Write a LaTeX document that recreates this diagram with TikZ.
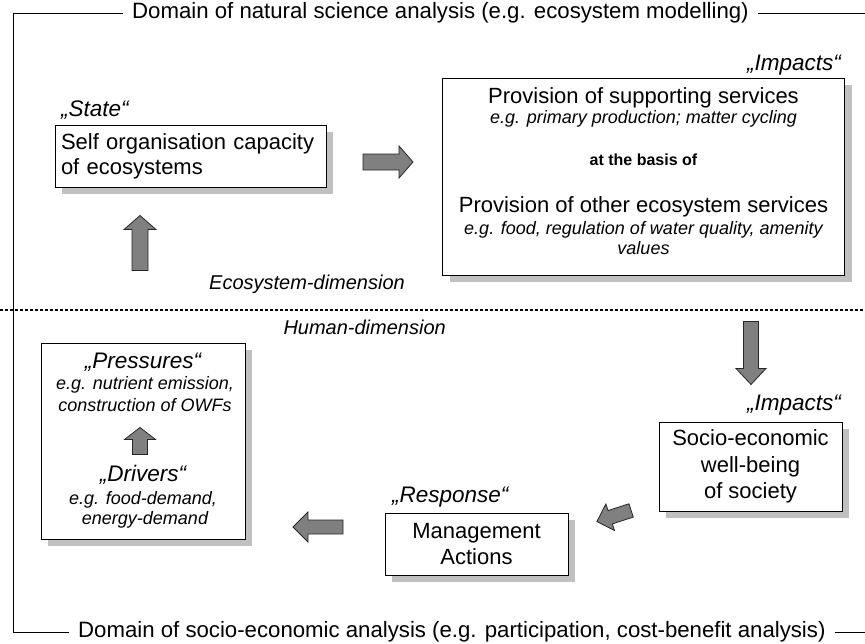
\documentclass[tikz,border=0pt]{standalone}
\usepackage{fontspec}
\setmainfont{Liberation Sans}
\usetikzlibrary{shadows}
\definecolor{shadowgray}{RGB}{192,192,192}
\definecolor{arrowgray}{RGB}{128,128,128}
\tikzset{
  boxstyle/.style={draw=black, line width=1pt, fill=white, inner sep=0pt,
    drop shadow={shadow xshift=7pt, shadow yshift=-7pt, fill=shadowgray, opacity=1}},
  arrowstyle/.style={fill=arrowgray, draw=black!85, line width=0.8pt, line join=miter},
  framestyle/.style={draw=black, line width=1pt},
  titlestyle/.style={inner xsep=9pt, inner ysep=0pt, font=\fontsize{22.2}{26}\selectfont},
  bigtxt/.style={inner sep=0pt, font=\fontsize{22}{26}\selectfont},
  lbl/.style={inner sep=0pt, font=\fontsize{22.5}{26}\selectfont\itshape},
  dimlbl/.style={inner sep=0pt, font=\fontsize{20}{24}\selectfont\itshape},
  smallit/.style={inner sep=0pt, font=\fontsize{18}{20}\selectfont\itshape},
  boldtxt/.style={inner sep=0pt, font=\fontsize{16}{20}\selectfont\bfseries},
  dotline/.style={line width=2.5pt, dash pattern=on 2.5pt off 2.5pt}
}
% block arrow: center x, center y, angle, length, shaft half, head half, head length
\newcommand{\barrow}[7]{%
  \begin{scope}[shift={(#1,#2)}, rotate=#3]
    \draw[arrowstyle] ({-#4/2},{-#5}) -- ({#4/2-#7},{-#5}) -- ({#4/2-#7},{-#6})
      -- ({#4/2},0) -- ({#4/2-#7},{#6}) -- ({#4/2-#7},{#5}) -- ({-#4/2},{#5}) -- cycle;
  \end{scope}}
\begin{document}
\begin{tikzpicture}[x=1pt,y=-1pt]
\useasboundingbox (0,0) rectangle (865,643);
\fill[white] (0,0) rectangle (865,643);

% frame
\coordinate (tl) at (13,13);
\coordinate (tr) at (865,13);
\coordinate (bl) at (13,632);
\coordinate (br) at (865,632);
\node[titlestyle, anchor=west] (toptitle) at (123,13) {Domain of natural science analysis (e.g. ecosystem modelling)};
\node[titlestyle, anchor=west] (bottitle) at (69,632) {Domain of socio-economic analysis (e.g. participation, cost-benefit analysis)};
\draw[framestyle] (toptitle.west) -- (tl) -- (bl) -- (bottitle.west);
\draw[framestyle] (toptitle.east) -- (tr);
\draw[framestyle] (bottitle.east) -- (br);

% dotted separator
\coordinate (dl) at (0,310);
\coordinate (dr) at (865,310);
\draw[dotline] (dl) -- (dr);

% State
\node[lbl, anchor=west] (statelbl) at (61,110) {„State“};
\node[boxstyle, minimum width=271pt, minimum height=62pt, text width=259pt, align=left,
      font=\fontsize{22}{25}\selectfont] (state) at (190.5,156) {Self organisation capacity\\of ecosystems};

% Impacts (ecosystem)
\node[lbl, anchor=east] (implbl) at (841,65) {„Impacts“};
\node[boxstyle, minimum width=402pt, minimum height=197pt] (impbox) at (643.5,176.5) {};
\node[bigtxt] (imp1) at (643.5,98) {Provision of supporting services};
\node[smallit] (imp2) at (643.5,119) {e.g. primary production; matter cycling};
\node[boldtxt] (imp3) at (643.5,160) {at the basis of};
\node[bigtxt] (imp4) at (643.5,207) {Provision of other ecosystem services};
\node[smallit, align=center] (imp5) at (643.5,238) {e.g. food, regulation of water quality, amenity\\values};

% arrows upper half
\barrow{388}{162}{0}{50}{8}{16}{14}
\barrow{140}{243}{90}{55}{8}{16}{14}

\node[dimlbl, anchor=east] (eco) at (405,284) {Ecosystem-dimension};
\node[dimlbl, anchor=east] (hum) at (446,327) {Human-dimension};

% Pressures / Drivers
\node[boxstyle, minimum width=204pt, minimum height=196pt] (presbox) at (143,441) {};
\node[lbl] (pres) at (143,362) {„Pressures“};
\node[smallit] (pres1) at (145,385) {e.g. nutrient emission,};
\node[smallit] (pres2) at (145,405) {construction of OWFs};
\barrow{140}{441}{90}{27}{7.5}{15.5}{12}
\node[lbl] (drv) at (143,475) {„Drivers“};
\node[smallit] (drv1) at (143,500) {e.g. food-demand,};
\node[smallit] (drv2) at (145,520) {energy-demand};

% Impacts (human)
\barrow{751}{353}{-90}{63}{7.5}{15}{16}
\node[lbl, anchor=east] (implbl2) at (841,405) {„Impacts“};
\node[boxstyle, minimum width=183pt, minimum height=89pt, align=center,
      font=\fontsize{22}{26.5}\selectfont] (socio) at (750.5,466.5) {Socio-economic\\well-being\\of society};

% Response
\barrow{614}{516}{198}{36}{7}{14}{14}
\node[lbl, anchor=west] (resp) at (392,497) {„Response“};
\node[boxstyle, minimum width=183pt, minimum height=62pt, align=center,
      font=\fontsize{22}{26}\selectfont] (mgmt) at (476.5,544) {Management\\Actions};

\barrow{318}{527}{180}{50}{7}{15}{15}
\end{tikzpicture}
\end{document}
